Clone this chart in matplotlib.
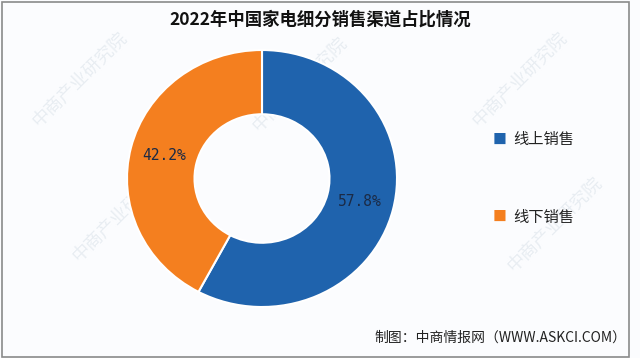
import matplotlib.pyplot as plt
from matplotlib.patches import Rectangle

plt.rcParams['font.family'] = ['Noto Sans CJK SC', 'DejaVu Sans']

title = "2022年中国家电细分销售渠道占比情况"
channels = ["线上销售", "线下销售"]
shares = [57.8, 42.2]
colors = ["#1f63ad", "#f47f1f"]
source = "制图：中商情报网（WWW.ASKCI.COM）"
watermark = "中商产业研究院"

W, H = 640, 358
fig = plt.figure(figsize=(W / 100, H / 100), dpi=100)
fig.patch.set_facecolor("#fbfcfe")

# faint watermarks, kept behind the chart
for wx, wy in [(80, 80), (300, 85), (520, 80), (120, 215), (330, 220), (555, 225)]:
    fig.text(wx / W, 1 - wy / H, watermark, rotation=45, fontsize=13,
             color="#e8edf2", ha="center", va="center", zorder=-5)

# frame
fig.add_artist(Rectangle((1.5 / W, 1.5 / H), 627 / W, 355 / H, transform=fig.transFigure,
                         fill=False, edgecolor="#8a8a8a", linewidth=1.2))

fig.text(320 / W, 1 - 20 / H, title, ha="center", va="center", fontsize=12.5,
         fontweight="bold", color="#111111")

# donut
ax = fig.add_axes([127 / W, 1 - 307 / H, 270 / W, 257 / H])
wedges, _, autotexts = ax.pie(shares, colors=colors, startangle=90, counterclock=False,
                              autopct="%.1f%%", pctdistance=0.75,
                              wedgeprops=dict(width=0.5, edgecolor="white", linewidth=1.5),
                              textprops=dict(fontsize=10.5, color="#1b2a45",
                                             family=["DejaVu Sans Mono"]))
ax.set_aspect("auto")
ax.set_xlim(-1.0, 1.0)
ax.set_ylim(-1.0, 1.0)
ax.axis("off")

# legend
for i, (name, c) in enumerate(zip(channels, colors)):
    y = 1 - (140 + i * 77) / H
    fig.text(500 / W, y, "■", color=c, fontsize=10, ha="center", va="center")
    fig.text(513 / W, y, name, fontsize=11, ha="left", va="center", color="#222222")

fig.text(374 / W, 1 - 338 / H, source, fontsize=10, ha="left", va="center", color="#222222")

fig.savefig("out.png", dpi=100, facecolor=fig.get_facecolor())
